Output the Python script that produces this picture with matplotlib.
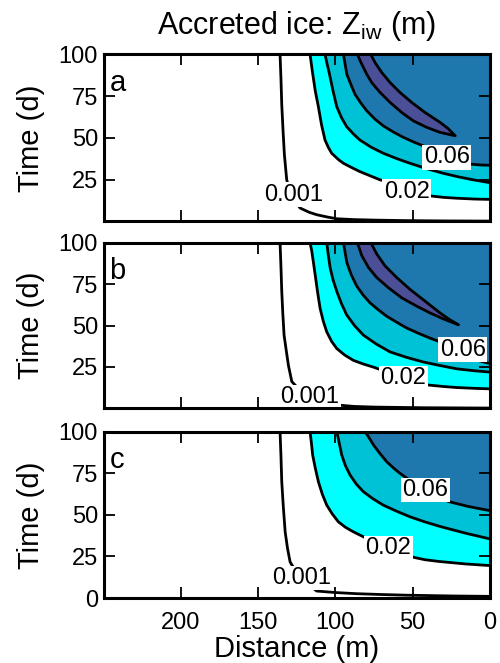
import matplotlib
matplotlib.use('Agg')
import matplotlib.pyplot as plt

plt.rcParams['font.family'] = ['Liberation Sans', 'DejaVu Sans']
plt.rcParams['mathtext.fontset'] = 'custom'
plt.rcParams['mathtext.rm'] = 'Liberation Sans'
plt.rcParams['mathtext.it'] = 'Liberation Sans'

# contour lines, as (distance m, time d) pairs
# panel a
a_001 = [(135.8, 100), (135.2, 85), (134.7, 70), (133.9, 55), (133.0, 40), (131.5, 25), (129.5, 18),
         (126, 12), (122.8, 8), (117, 5.5), (112, 4), (105, 2.6), (99, 1.6), (88, 1.1), (75, 0.8),
         (55, 0.5), (30, 0.3), (0, 0.2)]
a_002 = [(116.4, 100), (114.7, 88.5), (113, 78), (111, 68.6), (109, 58), (106.7, 48.7), (104.5, 44.2),
         (102.4, 40.8), (98, 37), (94.8, 34.8), (90, 32.5), (84.1, 29.8), (78, 27.5), (71.1, 24.9),
         (62, 22.8), (53.9, 20.3), (46, 17.5), (38.8, 15.3), (30, 14.4), (21.6, 13.9), (10, 13.4),
         (0, 13.2)]
a_004 = [(106.7, 100), (105.3, 94), (103.9, 88.5), (101.5, 78), (99.1, 68.6), (96, 62), (92.7, 56.7),
         (88.5, 52.5), (84.1, 48.7), (77, 44.5), (69, 40.8), (60, 37.5), (51.7, 34.8), (41, 31.6),
         (30.2, 28.8), (20, 26.6), (10.8, 24.9), (0, 23.2)]
a_006 = [(94.8, 100), (93.7, 94), (92.6, 88.1), (90, 82), (87.3, 76.1), (83.5, 70.8), (79.7, 66.2),
         (74.5, 61.3), (69, 57.2), (62.5, 53.5), (56, 50.3), (48.5, 47.2), (40.9, 44.4), (28, 39.5),
         (14, 34.4), (6, 33.8), (0, 33.6)]
a_008_lo = [(85.8, 100), (82.9, 94), (79.7, 88.1), (76.5, 83.1), (71.1, 77.2), (64.6, 71.2), (57.1, 65.2),
            (49.6, 60.2), (40.9, 56.3), (32.3, 53.3), (22.6, 51.3)]
a_008_hi = [(77.1, 100), (74.3, 95), (70, 89.1), (64.6, 83.1), (58.2, 77.2), (50.6, 71.2), (42, 65.2),
            (32.3, 59.3), (27, 55.5), (22.6, 51.3)]

# panel b
b_001 = [(135.8, 100), (135.2, 85), (134.7, 70.6), (134, 57), (133.2, 44.2), (131.8, 35), (130.4, 26),
         (128.2, 16.2), (123, 11), (118.5, 7.7), (110, 4.5), (98, 2), (88, 1.2), (75, 0.8), (43, 0.4),
         (0, 0.2)]
b_002 = [(116.4, 100), (115.3, 95), (114.2, 88), (113.1, 80.7), (111.5, 70), (109.9, 60.4), (107.8, 52.5),
         (105.6, 46.2), (102.5, 40.5), (99.1, 36.1), (94, 32.2), (88.4, 29), (82, 26.8), (75.4, 24.9),
         (66, 21.8), (56, 18.3), (48, 16), (40.9, 14.2), (30, 13.2), (21.6, 12.6), (10, 12.1), (0, 11.8)]
b_004 = [(105.6, 100), (104.5, 92), (103.4, 84.8), (101.5, 77.5), (99.1, 70.6), (96, 63), (92.7, 56.4),
         (87.5, 49.8), (81.9, 44.2), (73.5, 38.8), (64.7, 34.1), (54, 30.8), (43.1, 28), (32, 25.8),
         (21.6, 23.9), (10, 22.7), (0, 21.9)]
b_006 = [(94.8, 100), (93.7, 94), (92.6, 88), (89.7, 80.5), (86.2, 73.8), (82, 68.3), (77.6, 63.7),
         (72, 59.3), (66.8, 55.6), (60, 51.8), (53.9, 48.5), (46, 45.2), (38.8, 42.4), (30.2, 39.4),
         (17.7, 33.5), (8, 29), (0, 27)]
b_008_lo = [(85.8, 100), (82.9, 92.1), (78.6, 85), (73.2, 78.9), (65.7, 72.8), (57.1, 66.7), (47.4, 61.7),
            (38.8, 57.6), (30.2, 54), (20.5, 50.5)]
b_008_hi = [(77.1, 100), (73.2, 93.1), (67.9, 86), (60.3, 78.9), (51.7, 71.8), (42, 64.7), (32.3, 57.6),
            (26, 53.5), (20.5, 50.5)]

# panel c
c_001 = [(135.8, 100), (135.2, 85), (134.7, 69.9), (133.7, 55), (132.5, 39.8), (131, 30), (129.3, 21.7),
         (125, 15), (119, 9.5), (112.1, 4.2), (100, 3.3), (86.2, 2.6), (70, 2.1), (53.9, 1.7),
         (35, 1.4), (21.6, 1.2), (0, 1.0)]
c_002 = [(116.4, 100), (115.5, 93), (114.7, 85.9), (113, 78), (111, 69.9), (108.5, 62.5), (105.6, 55.8),
         (102, 50.5), (98.1, 45.8), (93.5, 42.5), (88.4, 39.8), (78, 35), (65.7, 30), (58, 27),
         (50.6, 24.7), (42, 23), (32.3, 21.9), (16, 20.5), (0, 19.5)]
c_004 = [(99.1, 100), (97.5, 93), (95.9, 85.9), (93.5, 79.5), (90.5, 73.9), (86.5, 68.5), (81.9, 63.9),
         (75.5, 59.5), (69, 55.8), (60, 52), (51.7, 48.8), (42, 45.7), (32.3, 43), (16, 39), (0, 35.5)]
c_006 = [(80.8, 100), (78, 96), (75.4, 92), (71.3, 87), (66.8, 81.9), (62.5, 78.2), (58.2, 74.9),
         (50, 69.5), (42, 65), (34, 61), (26.9, 58), (14, 55), (0, 52.5)]

# contour label positions (distance, time)
a_labels = [('0.001', 127.2, 15.9), ('0.02', 53.9, 17.9), ('0.06', 28.0, 38.4)]
b_labels = [('0.001', 116.4, 6.7), ('0.02', 56.0, 18.3), ('0.06', 17.7, 35.5)]
c_labels = [('0.001', 121.8, 12.0), ('0.02', 65.7, 30.1), ('0.06', 41.8, 64.9)]

level_colors = {'0.02': '#00ffff', '0.04': '#00c2d6', '0.06': '#1f78ad', '0.08': '#4a4f98'}


def fill_level(ax, pts, color):
    # region between the contour and the right edge (distance 0)
    xs = [p[0] for p in pts] + [0]
    ys = [p[1] for p in pts] + [100]
    ax.fill(xs, ys, color=color, lw=0, zorder=1)


def draw_line(ax, pts):
    ax.plot([p[0] for p in pts], [p[1] for p in pts], color='k', lw=2.0, zorder=2,
            solid_capstyle='round', solid_joinstyle='round')


def draw_panel(ax, c001, c002, c004, c006, c008_lo, c008_hi, labels, letter, show_x):
    fill_level(ax, c002, level_colors['0.02'])
    fill_level(ax, c004, level_colors['0.04'])
    fill_level(ax, c006, level_colors['0.06'])
    if c008_lo:
        sliver = c008_lo + c008_hi[::-1]
        ax.fill([p[0] for p in sliver], [p[1] for p in sliver], color=level_colors['0.08'], lw=0, zorder=1)
        draw_line(ax, c008_lo)
        draw_line(ax, c008_hi)
    for c in [c001, c002, c004, c006]:
        draw_line(ax, c)
    for txt, x, y in labels:
        ax.text(x, y, txt, fontsize=17, ha='center', va='center', zorder=3,
                bbox=dict(facecolor='white', edgecolor='none', pad=1.0))

    ax.set_xlim(250, 0)
    ax.set_ylim(0, 100)
    ax.set_xticks([200, 150, 100, 50, 0])
    if show_x:
        ax.set_yticks([0, 25, 50, 75, 100])
        ax.set_xlabel('Distance (m)', fontsize=21, labelpad=1)
    else:
        ax.set_yticks([25, 50, 75, 100])
        ax.set_xticklabels([])
    ax.set_ylabel('Time (d)', fontsize=21, labelpad=10)
    ax.tick_params(direction='in', length=8, width=1.3, top=True, right=True, labelsize=17)
    ax.tick_params(axis='x', pad=10)
    ax.tick_params(axis='y', pad=4)
    for s in ax.spines.values():
        s.set_linewidth(2.2)
        s.set_zorder(4)
    ax.text(0.015, 0.83, letter, transform=ax.transAxes, fontsize=21, ha='left', va='center', zorder=5)


fig = plt.figure(figsize=(5, 6.63), dpi=100)
ax_a = fig.add_axes([0.207, 0.666, 0.773, 0.252])
ax_b = fig.add_axes([0.207, 0.384, 0.773, 0.25])
ax_c = fig.add_axes([0.207, 0.098, 0.773, 0.251])

draw_panel(ax_a, a_001, a_002, a_004, a_006, a_008_lo, a_008_hi, a_labels, 'a', False)
draw_panel(ax_b, b_001, b_002, b_004, b_006, b_008_lo, b_008_hi, b_labels, 'b', False)
draw_panel(ax_c, c_001, c_002, c_004, c_006, None, None, c_labels, 'c', True)

ax_a.set_title(r'Accreted ice: Z$_{\rm iw}$ (m)', fontsize=22, pad=15)

fig.savefig('out.png', dpi=100)
